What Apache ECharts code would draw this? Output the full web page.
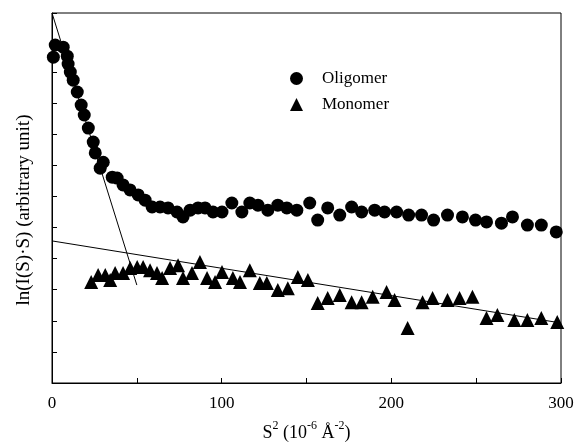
<!DOCTYPE html>
<html>
<head>
<meta charset="utf-8">
<script src="https://cdn.jsdelivr.net/npm/echarts@6/dist/echarts.min.js"></script>
<style>
  html, body { margin: 0; padding: 0; background: #fff; }
  #chart { width: 577px; height: 442px; }
</style>
</head>
<body>
<div id="chart"></div>
<script>
// Oligomer 数据 (S^2, ln(I(S)·S))
const oligomerX = [0.8, 1.9, 6.6, 9, 9.5, 10.8, 12.5, 14.9, 17.2, 19, 21.4, 24.3, 25.5, 28.4, 30.2,
  35.5, 38.4, 41.9, 46, 50.8, 54.9, 59, 63.7, 68.4, 73.7, 77.2, 81.4, 86.1, 90.2, 94.9,
  100.2, 106, 111.9, 116.6, 121.4, 127.2, 133.1, 138.4, 144.3, 151.9, 156.6, 162.5, 169.6, 176.6, 182.5,
  190.2, 196, 203.1, 210.2, 217.8, 224.9, 233.1, 241.9, 249.6, 256.1, 264.9, 271.4, 280.2, 288.4, 297.2]
const oligomerY = [10.48, 10.87, 10.8, 10.51, 10.26, 10.0, 9.74, 9.36, 8.94, 8.62, 8.2, 7.75, 7.4, 6.91, 7.1,
  6.62, 6.59, 6.37, 6.21, 6.05, 5.88, 5.66, 5.66, 5.63, 5.5, 5.34, 5.56, 5.63, 5.63, 5.5,
  5.5, 5.79, 5.5, 5.79, 5.72, 5.56, 5.72, 5.63, 5.56, 5.79, 5.24, 5.63, 5.4, 5.66, 5.5,
  5.56, 5.5, 5.5, 5.4, 5.4, 5.24, 5.4, 5.34, 5.24, 5.18, 5.14, 5.34, 5.08, 5.08, 4.86]

// Monomer 数据
const monomerX = [23.1, 27.2, 31.4, 34.3, 37.2, 41.9, 46.1, 50.2, 53.7, 57.8, 61.9, 64.9, 69.6, 74.3, 77.2,
  82.5, 87.2, 91.4, 96.1, 100.2, 106.6, 110.8, 116.6, 122.5, 126.6, 133.1, 139, 144.9, 150.8, 156.6,
  162.5, 169.6, 176.6, 182.5, 189, 197.2, 201.9, 209.6, 218.4, 224.3, 233.1, 240.2, 247.8, 256.1, 262.5,
  272.5, 280.2, 288.4, 297.8]
const monomerY = [3.25, 3.47, 3.47, 3.31, 3.54, 3.54, 3.7, 3.73, 3.73, 3.63, 3.54, 3.38, 3.7, 3.79, 3.38,
  3.54, 3.89, 3.38, 3.25, 3.57, 3.38, 3.25, 3.63, 3.22, 3.22, 2.99, 3.05, 3.41, 3.31, 2.57,
  2.73, 2.83, 2.6, 2.6, 2.77, 2.93, 2.67, 1.77, 2.6, 2.73, 2.67, 2.73, 2.77, 2.09, 2.19,
  2.03, 2.03, 2.09, 1.96]

// 拟合直线端点
const oligomerFitX = [0, 50]
const oligomerFitY = [11.9, 3.15]
const monomerFitX = [0, 300]
const monomerFitY = [4.57, 1.93]

const xTickLabels = [0, 100, 200, 300]

const zip = (xs, ys) => xs.map((x, i) => [x, ys[i]])

const serif = 'Liberation Serif'
const chart = echarts.init(document.getElementById('chart'))

const option = {
  backgroundColor: '#fff',
  animation: false,
  textStyle: { fontFamily: serif, color: '#000' },
  grid: {
    left: 52,
    right: 16,
    top: 13,
    bottom: 59,
    outerBoundsMode: 'none',
    containLabel: false,
    show: true,
    borderColor: '#000',
    borderWidth: 1
  },
  legend: {
    orient: 'vertical',
    left: 285,
    top: 65,
    itemWidth: 13,
    itemHeight: 13,
    itemGap: 9,
    data: ['Oligomer', 'Monomer'],
    textStyle: { fontFamily: serif, fontSize: 17, color: '#000', padding: [0, 0, 0, 14] }
  },
  xAxis: {
    type: 'value',
    min: 0,
    max: 300,
    interval: 50,
    name: '{n|S}{s|2}{n| (10}{s|-6}{n| Å}{s|-2}{n|)}',
    nameLocation: 'middle',
    nameGap: 37,
    nameTextStyle: {
      rich: {
        n: { fontFamily: serif, fontSize: 18, color: '#000', lineHeight: 22, verticalAlign: 'bottom' },
        s: { fontFamily: serif, fontSize: 12, color: '#000', lineHeight: 22, verticalAlign: 'top' }
      }
    },
    splitLine: { show: false },
    axisLine: { lineStyle: { color: '#000', width: 1 } },
    axisTick: { inside: true, length: 5, lineStyle: { color: '#000' } },
    axisLabel: {
      fontFamily: serif,
      fontSize: 17,
      color: '#000',
      margin: 12,
      formatter: v => (xTickLabels.includes(v) ? String(v) : '')
    }
  },
  yAxis: {
    type: 'value',
    min: 0,
    max: 11.9,
    interval: 1,
    name: 'ln(I(S)·S) (arbitrary unit)',
    nameLocation: 'middle',
    nameGap: 18,
    nameTextStyle: { fontFamily: serif, fontSize: 19, color: '#000', padding: [0, 24, 0, 0] },
    splitLine: { show: false },
    axisLine: { lineStyle: { color: '#000', width: 1 } },
    axisTick: { inside: true, length: 5, lineStyle: { color: '#000' } },
    axisLabel: { show: false }
  },
  series: [
    {
      name: 'Oligomer',
      type: 'scatter',
      symbol: 'circle',
      symbolSize: 13,
      itemStyle: { color: '#000', opacity: 1 },
      data: zip(oligomerX, oligomerY)
    },
    {
      name: 'Monomer',
      type: 'scatter',
      symbol: 'triangle',
      symbolSize: 14,
      itemStyle: { color: '#000', opacity: 1 },
      data: zip(monomerX, monomerY)
    },
    {
      name: 'fit1',
      type: 'line',
      symbol: 'none',
      lineStyle: { color: '#000', width: 1 },
      data: zip(oligomerFitX, oligomerFitY),
      z: 1
    },
    {
      name: 'fit2',
      type: 'line',
      symbol: 'none',
      lineStyle: { color: '#000', width: 1 },
      data: zip(monomerFitX, monomerFitY),
      z: 1
    }
  ]
}

chart.setOption(option)
</script>
</body>
</html>
